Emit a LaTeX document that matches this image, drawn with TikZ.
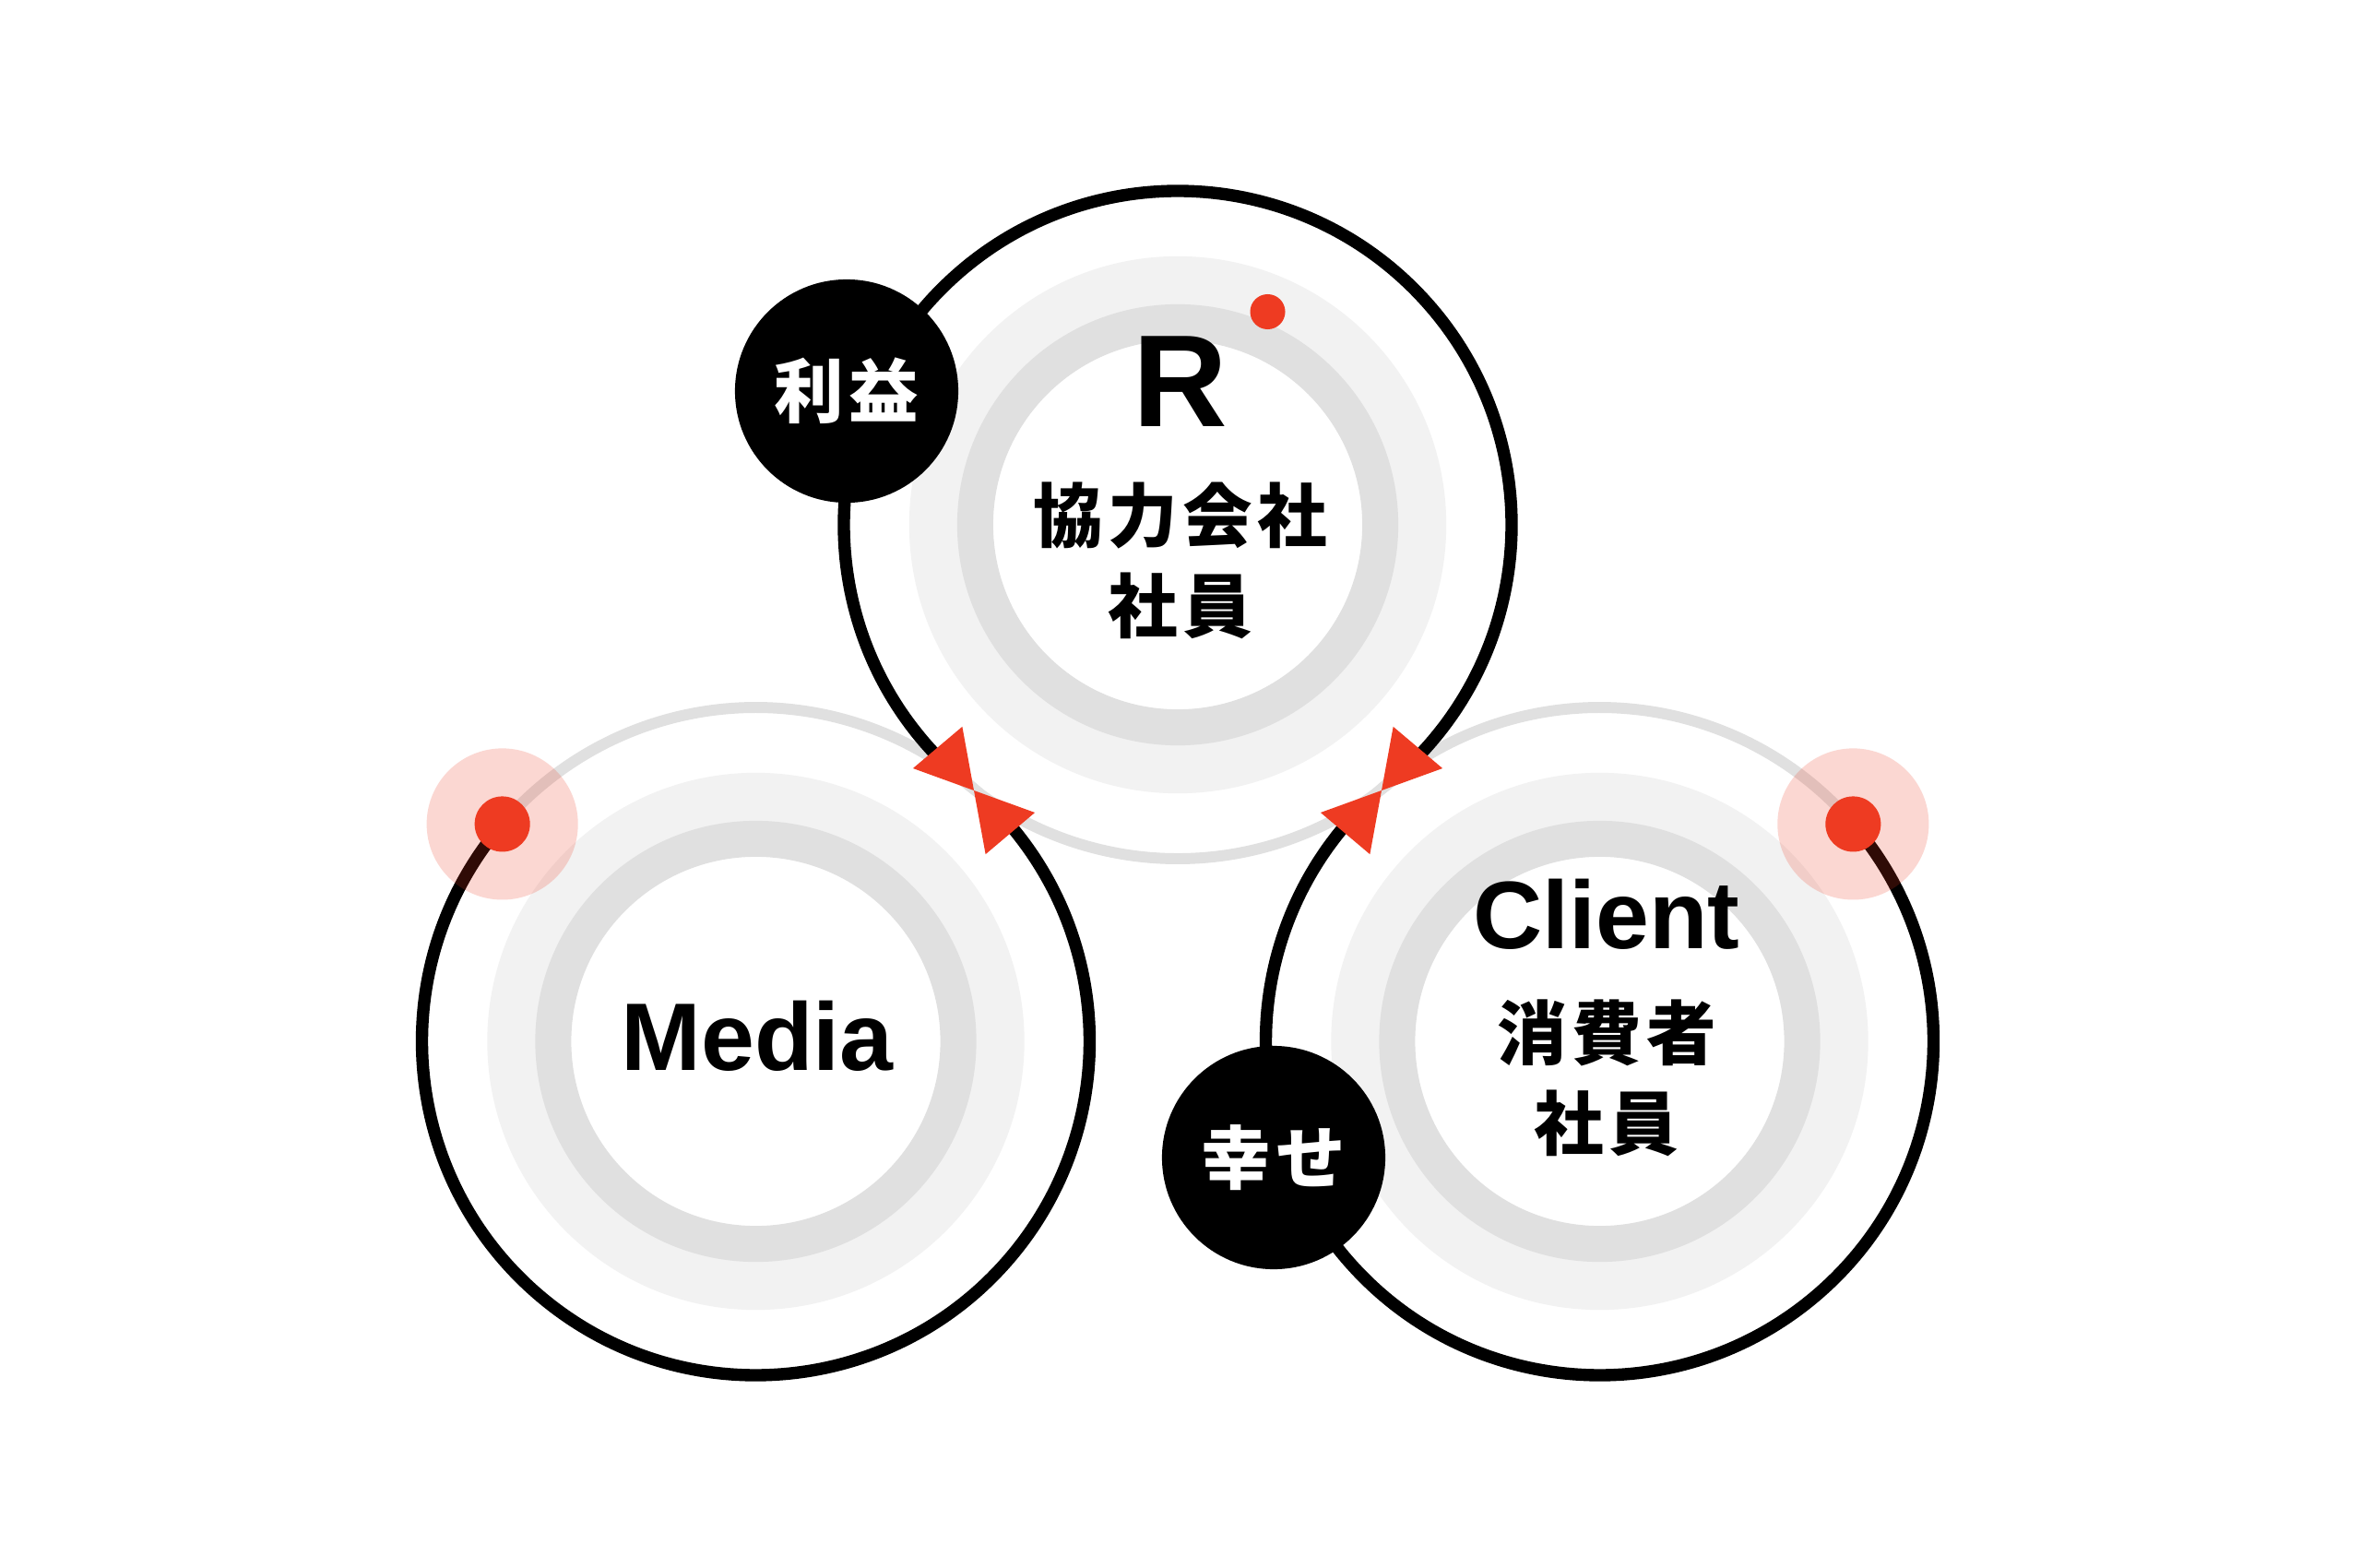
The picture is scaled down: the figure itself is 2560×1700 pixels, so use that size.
\documentclass[tikz,border=0pt]{standalone}
\usepackage{fontspec}
\setmainfont{Liberation Sans}
\newfontfamily\jp[LetterSpace=7]{Noto Sans CJK JP}

\definecolor{tipred}{RGB}{238,59,34}
\definecolor{diskgray}{HTML}{F2F2F2}
\definecolor{ringgray}{HTML}{E0E0E0}

\tikzstyle{disk} = [circle, fill=diskgray, minimum size=5.82cm, inner sep=0pt]
\tikzstyle{ring} = [circle, draw=ringgray, fill=white, line width=11.1pt, minimum size=4.39cm, inner sep=0pt]
\tikzstyle{flow} = [line width=3.8pt, draw=black]
\tikzstyle{back} = [line width=3.4pt, draw=ringgray]
\tikzstyle{headred} = [fill=tipred]
\tikzstyle{badge} = [circle, fill=black, minimum size=2.42cm, inner sep=0pt, text=white, font=\jp\bfseries\fontsize{21.5}{26}\selectfont]
\tikzstyle{halo} = [circle, fill=tipred, fill opacity=0.2, minimum size=1.64cm, inner sep=0pt]
\tikzstyle{reddot} = [circle, fill=tipred, minimum size=0.6cm, inner sep=0pt]
\tikzstyle{big} = [font=\bfseries\fontsize{29.6}{30}\selectfont]
\tikzstyle{jtext} = [align=center, font=\jp\bfseries\fontsize{21.5}{27.9}\selectfont]

\begin{document}
\begin{tikzpicture}[x=0.01cm, y=0.01cm]
        \fill[white] (0,0) rectangle (2560,-1700);
        \useasboundingbox (0,0) rectangle (2560,-1700);
        \coordinate (top) at (1277,-569);
        \coordinate (media) at (819.5,-1129);
        \coordinate (client) at (1734.5,-1129);
        \coordinate (meetl) at (1056,-857);
        \coordinate (meetr) at (1498,-857);

        % rings
        \node[disk] (topdisk) at (top) {};
        \node[ring] (topring) at (top) {};
        \node[disk] (mediadisk) at (media) {};
        \node[ring] (mediaring) at (media) {};
        \node[disk] (clientdisk) at (client) {};
        \node[ring] (clientring) at (client) {};

        % loops
        \draw[back] (top) ++(224:362) arc[start angle=224, end angle=316, radius=362];
        \draw[back] (media) ++(40.5:362) arc[start angle=40.5, end angle=139.4, radius=362];
        \draw[back] (client) ++(40.6:362) arc[start angle=40.6, end angle=139.5, radius=362];
        \draw[flow] (top) ++(224:362) arc[start angle=224, end angle=-44, radius=362];
        \draw[flow] (media) ++(139.4:362) arc[start angle=139.4, end angle=400.5, radius=362];
        \draw[flow] (client) ++(40.6:362) arc[start angle=40.6, end angle=-220.5, radius=362];

        % arrow heads
        \fill[headred] (meetl) -- +(160.05:70.3) -- +(100.35:70.3) -- cycle;
        \fill[headred] (meetl) -- +(-19.95:70.3) -- +(-79.65:70.3) -- cycle;
        \fill[headred] (meetr) -- +(19.95:70.3) -- +(79.65:70.3) -- cycle;
        \fill[headred] (meetr) -- +(199.95:70.3) -- +(259.65:70.3) -- cycle;

        % badges and dots
        \node[badge] (rieki) at (918,-424) {利益};
        \node[badge] (shiawase) at (1381,-1255) {幸せ};
        \path (media) ++(139.4:362) node[halo] (mediahalo) {} node[reddot] (mediadot) {};
        \path (client) ++(40.6:362) node[halo] (clienthalo) {} node[reddot] (clientdot) {};
        \node[reddot, minimum size=0.38cm] (topdot) at (1374.5,-338) {};

        % labels
        \node[font=\bfseries\fontsize{40.4}{41}\selectfont] (r) at (1280,-414) {R};
        \node[jtext, below of=r, node distance=1.94cm] (kyoryoku) {協力会社\\社員};
        \node[big] (medialabel) at (821,-1123) {Media};
        \node[big] (clientlabel) at (1742,-991) {Client};
        \node[jtext, below of=clientlabel, node distance=1.78cm] (shohisha) {消費者\\社員};
\end{tikzpicture}
\end{document}
